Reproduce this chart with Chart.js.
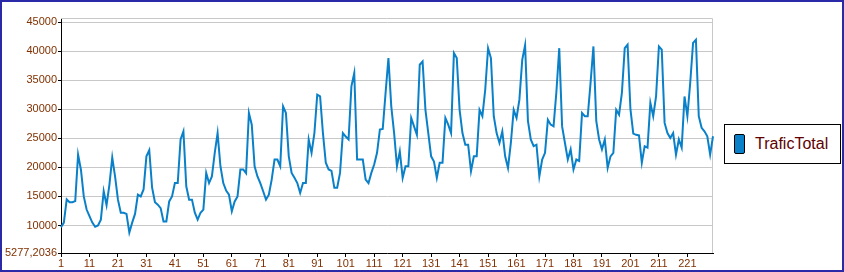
<!DOCTYPE html>
<html>
<head>
<meta charset="utf-8">
<script src="https://cdn.jsdelivr.net/npm/chart.js@4.4.1/dist/chart.umd.min.js"></script>
<style>
  body { margin: 0; background: #fff; }
  #wrap {
    position: relative; width: 844px; height: 272px; box-sizing: border-box;
    border: 2px solid #2a2aa8; background: #fff;
  }
  #chart { position: absolute; left: 0; top: 0; }
  #legend {
    position: absolute; left: 722px; top: 122px; width: 117px; height: 40px;
    box-sizing: border-box; border: 1px solid #000; background: #fff;
    font: 16px "Liberation Sans", Arial, sans-serif; color: #600000;
  }
  #legend .sw {
    position: absolute; left: 9px; top: 9px; width: 11px; height: 20px;
    box-sizing: border-box; border: 1px solid #000; border-radius: 2px; background: #0a80c8;
  }
  #legend .txt { position: absolute; left: 30px; top: 10px; line-height: 18px; }
</style>
</head>
<body>
<div id="wrap">
  <canvas id="chart" width="840" height="268"></canvas>
  <div id="legend"><span class="sw"></span><span class="txt">TraficTotal</span></div>
</div>
<script>
// monthly values
const traficTotal = [
  9700, 10500, 14500, 14000, 14000, 14200, 22200, 19600, 15000, 12750, 11600, 10500,
  9800, 10000, 11000, 15900, 13500, 17000, 21700, 18400, 14450, 12200, 12200, 12000,
  8800, 10500, 12000, 15300, 15000, 16200, 21900, 22950, 16500, 14000, 13600, 13000,
  10700, 10700, 14150, 15000, 17300, 17300, 24800, 26200, 16750, 14450, 14450, 12200,
  11000, 12200, 12750, 19050, 17300, 18450, 22500, 25900, 20200, 17300, 16000, 15300,
  12450, 14150, 15000, 19650, 19650, 19000, 29350, 27350, 20200, 18450, 17300, 15900,
  14450, 15300, 17900, 21350, 21350, 20200, 30500, 29350, 21900, 19050, 18200, 17300,
  15600, 17300, 17300, 24800, 22500, 25900, 32500, 32200, 25900, 20800, 19650, 19400,
  16500, 16500, 19050, 25900, 25300, 24800, 33950, 36250, 21350, 21350, 21350, 17900,
  17300, 19050, 20500, 22500, 26500, 26600, 32800, 38800, 30500, 25900, 20200, 22750,
  18200, 20200, 20200, 28500, 27050, 25600, 37650, 38200, 29900, 25900, 21900, 21000,
  18200, 20800, 20800, 28500, 27350, 25900, 39650, 38800, 29900, 25900, 23900, 23900,
  19350, 21900, 21900, 29900, 28800, 33350, 40500, 38800, 28800, 25900, 24200, 26200,
  21900, 19900, 24200, 29900, 28500, 31650, 38500, 41000, 28000, 24800, 23650, 23900,
  18450, 21350, 22500, 28200, 27350, 27050, 33000, 40500, 27050, 24200, 21350, 23100,
  19650, 21350, 21100, 29350, 28800, 28800, 34550, 40800, 28000, 24800, 23100, 24800,
  19900, 21900, 22500, 29900, 29050, 32800, 40500, 41100, 30000, 25800, 25600, 25500,
  20800, 23650, 23400, 31100, 28800, 32200, 40800, 40250, 27650, 25900, 25050, 25900,
  22200, 24800, 23400, 32200, 28800, 34550, 41400, 41950, 28800, 26800, 26200, 25350,
  22200, 25350
];

// categories 1..N, a label every 10th
const labels = traficTotal.map((_, i) => String(i + 1));

// y axis
const yMin = 5277.2036;
const yMax = 45690;
const yTicks = [yMin, 10000, 15000, 20000, 25000, 30000, 35000, 40000, 45000];

const font = { family: '"Liberation Sans", Arial, sans-serif', size: 11 };
const textColor = '#803000';
const gridColor = '#c8c8c8';

// grey frame on top and right of the plot
const frame = {
  id: 'frame',
  beforeDatasetsDraw(chart) {
    const { ctx, chartArea: a } = chart;
    ctx.save();
    ctx.strokeStyle = gridColor;
    ctx.lineWidth = 1;
    ctx.beginPath();
    ctx.moveTo(a.left, a.top + 0.5);
    ctx.lineTo(a.right - 0.5, a.top + 0.5);
    ctx.lineTo(a.right - 0.5, a.bottom);
    ctx.stroke();
    ctx.restore();
  }
};

new Chart(document.getElementById('chart'), {
  type: 'line',
  data: {
    labels: labels,
    datasets: [{
      label: 'TraficTotal',
      data: traficTotal,
      borderColor: '#0a80c8',
      borderWidth: 2,
      pointRadius: 0,
      tension: 0,
      fill: false
    }]
  },
  options: {
    responsive: false,
    animation: false,
    devicePixelRatio: 1,
    layout: { padding: { top: 16, right: 129, left: 0, bottom: 0 } },
    plugins: { legend: { display: false }, tooltip: { enabled: false } },
    scales: {
      x: {
        type: 'category',
        afterFit: (s) => { s.height = 17; },
        ticks: {
          autoSkip: false, maxRotation: 0, minRotation: 0, padding: 0,
          color: textColor, font: font,
          callback: function (val, idx) { return idx % 10 === 0 ? this.getLabelForValue(val) : ''; }
        },
        grid: {
          drawOnChartArea: false, tickLength: 4,
          tickColor: (c) => (c.index % 10 === 0 ? '#000' : 'rgba(0,0,0,0)')
        },
        border: { color: '#000', width: 1 }
      },
      y: {
        min: yMin,
        max: yMax,
        afterBuildTicks: (s) => { s.ticks = yTicks.map((v) => ({ value: v })); },
        afterFit: (s) => { s.width = 59; },
        ticks: {
          padding: 1, color: textColor, font: font,
          callback: (v) => String(v).replace('.', ',')
        },
        grid: { color: gridColor, tickColor: '#000', tickLength: 3 },
        border: { color: '#000', width: 1 }
      }
    }
  },
  plugins: [frame]
});
</script>
</body>
</html>
